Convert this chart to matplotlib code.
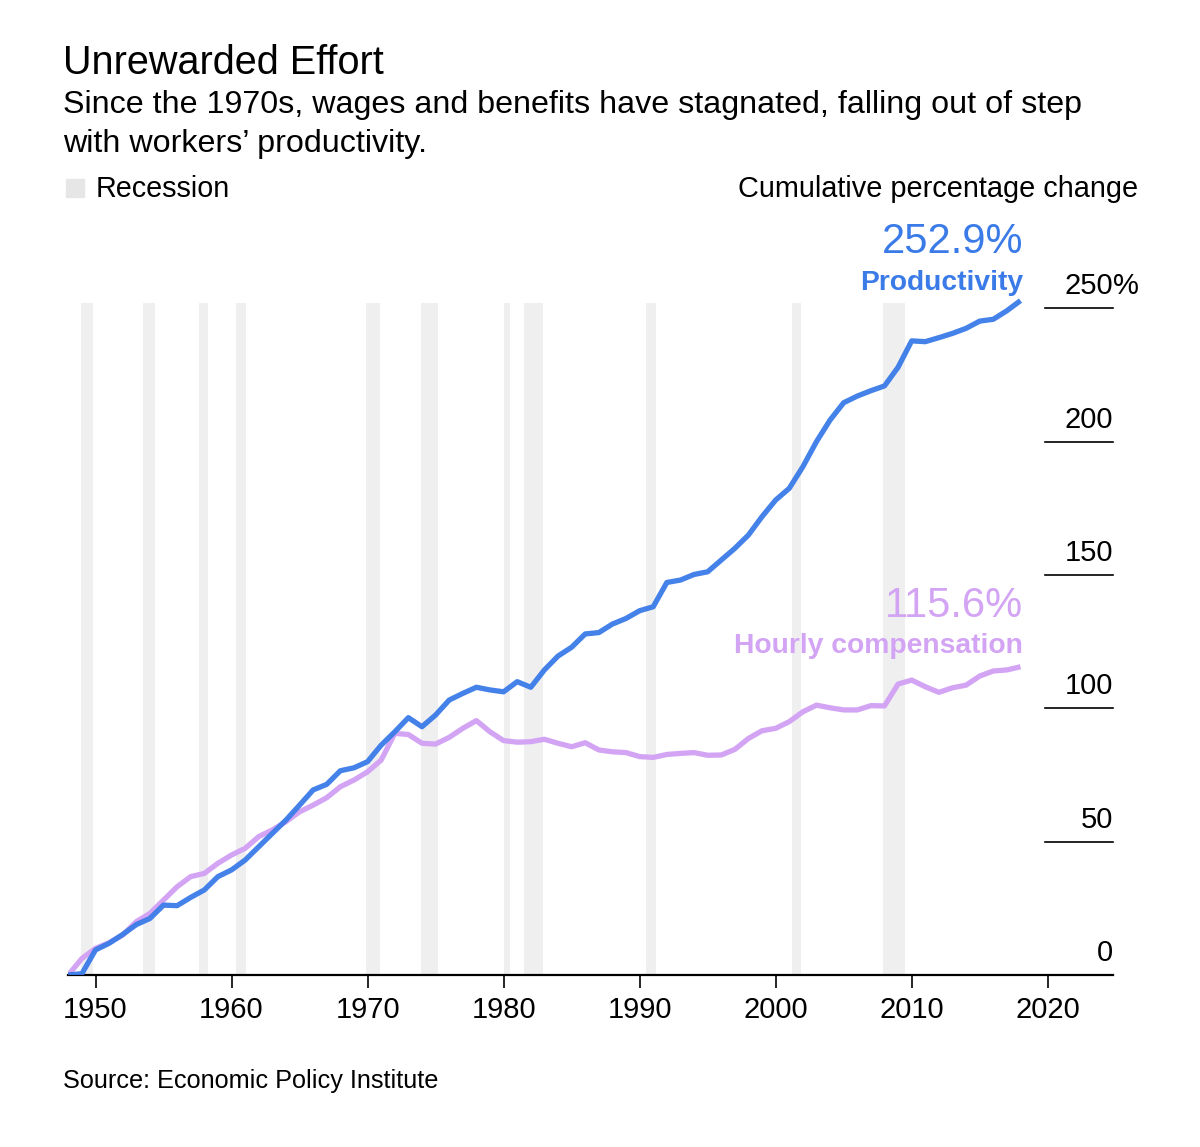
import matplotlib.pyplot as plt

plt.rcParams['font.family'] = ['Liberation Sans', 'DejaVu Sans']

years = list(range(1948, 2019))

productivity = [
  0.0, 0.5, 9.4, 11.9, 15.2, 18.9, 21.2, 26.2, 26.0, 29.1,
  31.9, 36.9, 39.4, 43.1, 48.1, 53.1, 58.1, 63.7, 69.4, 71.5,
  76.6, 77.7, 80.0, 86.2, 91.2, 96.5, 93.1, 97.5, 103.1, 105.6,
  107.9, 106.9, 106.2, 110.0, 107.9, 114.4, 119.6, 122.9, 127.9, 128.4,
  131.6, 133.7, 136.6, 138.1, 147.2, 148.1, 150.2, 151.2, 155.6, 160.0,
  165.0, 171.9, 178.1, 182.5, 190.6, 200.0, 208.1, 214.6, 217.1, 219.1,
  220.9, 227.9, 237.8, 237.5, 239.0, 240.6, 242.5, 245.2, 245.9, 249.1,
  252.9,
]

compensation = [
  0.0, 6.2, 10.0, 12.1, 15.0, 20.0, 23.1, 28.1, 33.1, 36.9,
  38.1, 41.9, 45.0, 47.5, 51.9, 54.4, 57.5, 61.2, 63.7, 66.5,
  70.6, 73.1, 76.2, 80.6, 90.6, 90.2, 86.9, 86.6, 89.1, 92.5,
  95.4, 91.2, 87.9, 87.3, 87.5, 88.4, 86.9, 85.6, 87.1, 84.4,
  83.7, 83.4, 81.9, 81.6, 82.7, 83.1, 83.4, 82.4, 82.5, 84.6,
  88.7, 91.6, 92.5, 95.0, 98.7, 101.2, 100.2, 99.4, 99.4, 101.0,
  100.9, 109.1, 110.6, 108.1, 106.0, 107.7, 108.7, 112.1, 114.0, 114.4,
  115.6,
]

recessions = [
  (1948.9, 1949.8), (1953.5, 1954.4), (1957.6, 1958.3), (1960.3, 1961.1),
  (1969.9, 1970.9), (1973.9, 1975.2), (1980.0, 1980.5), (1981.5, 1982.9),
  (1990.5, 1991.2), (2001.2, 2001.9), (2007.9, 2009.5),
]

x_ticks = [1950, 1960, 1970, 1980, 1990, 2000, 2010, 2020]
y_ticks = [0, 50, 100, 150, 200, 250]

prod_label = '252.9%'
comp_label = '115.6%'

blue = '#3a7be8'
purple = '#d3a4f4'
grey = '#efefef'

W, H = 1200, 1147

def fx(px):
  return px / W

def fy(py):
  return 1 - py / H

fig = plt.figure(figsize=(12, 11.47), dpi=100)
ax = fig.add_axes([fx(68.3), fy(975), (1113 - 68.3) / W, (975 - 295) / H])
ax.set_xlim(1948, 2024.8)
ax.set_ylim(0, 255)

# recession bands
for start, end in recessions:
  ax.axvspan(start, end, ymin=0, ymax=252 / 255, color=grey, lw=0, zorder=0)

ax.plot(years, compensation, color=purple, lw=3.8, solid_capstyle='butt', zorder=2)
ax.plot(years, productivity, color=blue, lw=3.8, solid_capstyle='butt', alpha=0.95, zorder=3)

for s in ['top', 'left', 'right']:
  ax.spines[s].set_visible(False)
ax.spines['bottom'].set_linewidth(1.6)
ax.spines['bottom'].set_color('black')

ax.set_xticks(x_ticks)
ax.set_xticklabels([str(x) for x in x_ticks])
ax.tick_params(axis='x', direction='out', length=9, width=1.2, pad=6, labelsize=21)
ax.set_yticks([])

# y labels sit above short rules on the right, top one gets a hanging %
ytr = ax.get_yaxis_transform()
for v in y_ticks:
  if v > 0:
    ax.plot([0.935, 1.0], [v, v], color='black', lw=1.2, transform=ytr, clip_on=False)
  ax.annotate(str(v), xy=(1.0, v), xycoords=ytr, xytext=(0, 10), textcoords='offset points',
              ha='right', va='baseline', fontsize=21)
ax.annotate('%', xy=(1.0, y_ticks[-1]), xycoords=ytr, xytext=(0, 10), textcoords='offset points',
            ha='left', va='baseline', fontsize=21)

# end labels
fig.text(fx(1023), fy(253), prod_label, color=blue, fontsize=30, ha='right', va='baseline')
fig.text(fx(1023), fy(290), 'Productivity', color=blue, fontsize=20.3, fontweight='bold',
         ha='right', va='baseline')
fig.text(fx(1023), fy(617), comp_label, color=purple, fontsize=30, ha='right', va='baseline')
fig.text(fx(1023), fy(653), 'Hourly compensation', color=purple, fontsize=20.3, fontweight='bold',
         ha='right', va='baseline')

# titles
fig.text(fx(63), fy(74), 'Unrewarded Effort', fontsize=28.5, ha='left', va='baseline')
fig.text(fx(63), fy(113), 'Since the 1970s, wages and benefits have stagnated, falling out of step',
         fontsize=23.2, ha='left', va='baseline')
fig.text(fx(63), fy(152), 'with workers\u2019 productivity.', fontsize=23.2, ha='left', va='baseline')

# legend
fig.patches.append(plt.Rectangle((fx(66), fy(197)), 18 / W, 18 / H, color='#e6e6e6',
                                 transform=fig.transFigure, figure=fig))
fig.text(fx(96), fy(197), 'Recession', fontsize=20.7, ha='left', va='baseline')
fig.text(fx(1138), fy(197), 'Cumulative percentage change', fontsize=20.8, ha='right', va='baseline')

fig.text(fx(63), fy(1088), 'Source: Economic Policy Institute', fontsize=18.2, ha='left', va='baseline')

fig.savefig('out.png', dpi=100, facecolor='white')
